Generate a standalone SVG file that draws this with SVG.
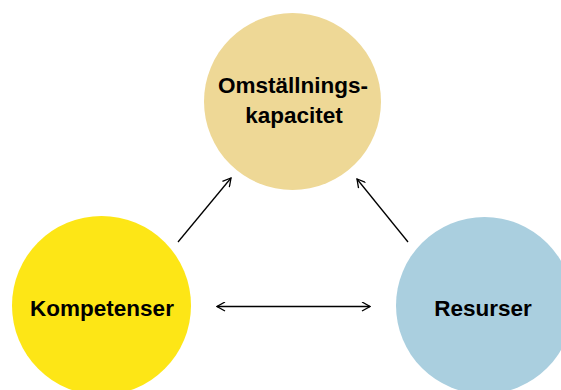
<svg xmlns="http://www.w3.org/2000/svg" width="561" height="390" viewBox="0 0 561 390">
<defs>
<marker id="arr" viewBox="0 0 10 10" refX="9" refY="5" markerWidth="10" markerHeight="10" markerUnits="userSpaceOnUse" orient="auto-start-reverse">
<path d="M1,0.5 L9,5 L1,9.5" fill="none" stroke="#000" stroke-width="1.3"/>
</marker>
<style>
.lbl{font-family:"Liberation Sans",Arial,sans-serif;font-weight:bold;font-size:22.5px;fill:#000;text-anchor:middle}
.conn{stroke:#000;stroke-width:1.3;fill:none}
</style>
</defs>
<rect width="561" height="390" fill="#fff"/>
<g id="omstallning">
<circle cx="292.5" cy="101.5" r="88.5" fill="#EED896"/>
<text class="lbl" x="293" y="93">Omställnings-</text>
<text class="lbl" x="294" y="123">kapacitet</text>
</g>
<g id="kompetenser">
<circle cx="101.5" cy="305.5" r="89.5" fill="#FDE616"/>
<text class="lbl" x="102" y="316">Kompetenser</text>
</g>
<g id="resurser">
<circle cx="484.5" cy="305.5" r="88.5" fill="#AACFDF"/>
<text class="lbl" x="483" y="316">Resurser</text>
</g>
<g id="connectors">
<line class="conn" x1="178" y1="242" x2="231" y2="178" marker-end="url(#arr)"/>
<line class="conn" x1="408" y1="242" x2="357" y2="179" marker-end="url(#arr)"/>
<line class="conn" x1="217" y1="306.5" x2="370" y2="306.5" marker-start="url(#arr)" marker-end="url(#arr)"/>
</g>
</svg>
